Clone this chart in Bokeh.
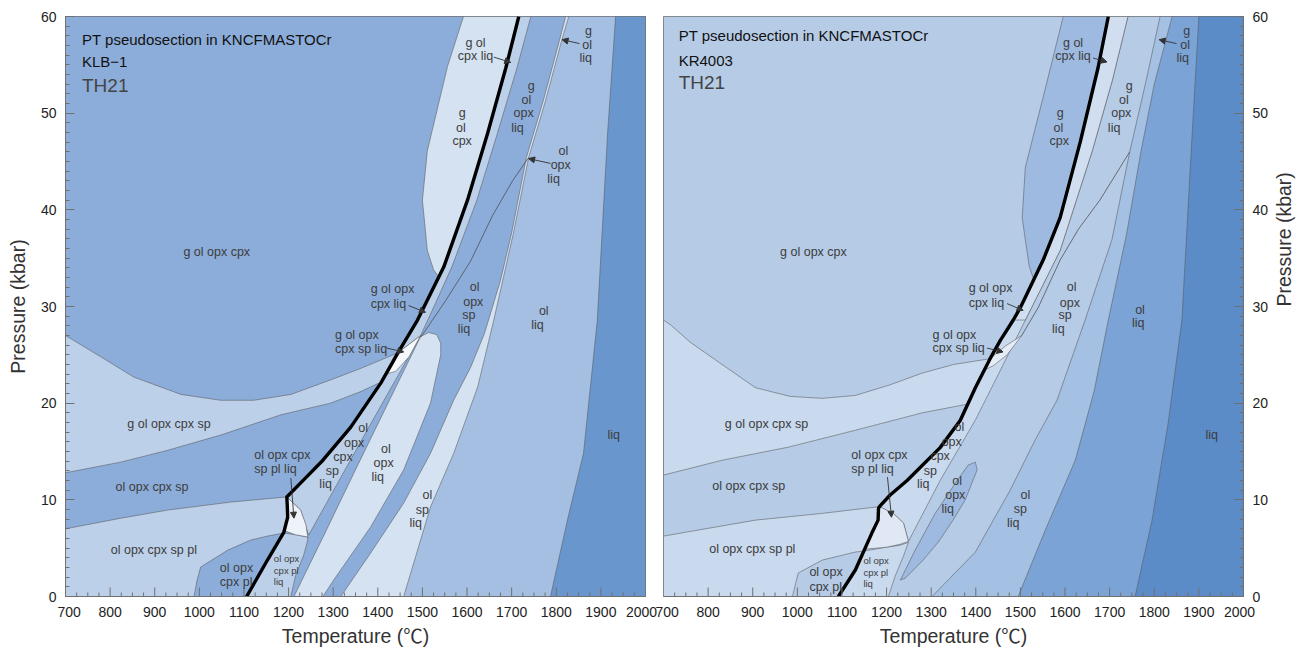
import math
from bokeh.plotting import figure
from bokeh.layouts import row
from bokeh.models import Arrow, NormalHead, SingleIntervalTicker, FixedTicker, Range1d
from bokeh.core.properties import value
from bokeh.embed import file_html
from bokeh.resources import INLINE

FONT = "Liberation Sans"
TITLE_FONT = "Liberation Sans, Noto Sans CJK SC"

# ---------------------------------------------------------------
# KLB-1 phase boundaries, (T in degC, P in kbar)
# ---------------------------------------------------------------
KLB_SOLIDUS = [(1106, 0), (1153, 3.8), (1189, 6.6), (1198, 8.2), (1197, 9.5), (1196, 10.3),
               (1241, 12.4), (1277, 14.1), (1339, 17.5), (1407, 22.1), (1445, 25.2),
               (1489, 28.6), (1548, 34.1), (1601, 41.0), (1646, 47.9), (1687, 54.7), (1716, 60)]
KLB_GARNET_OUT = [(700, 27.0), (779, 24.8), (853, 22.7), (959, 20.9), (1048, 20.3), (1122, 20.3),
                  (1205, 20.9), (1294, 22.4), (1362, 23.6), (1445, 25.2)]
KLB_GARNET_IN = [(700, 12.8), (824, 13.9), (927, 15.1), (1048, 16.7), (1183, 18.8), (1294, 20.0),
                 (1362, 21.2), (1408, 22.2)]
KLB_PLAG_OUT = [(700, 7.0), (824, 8.1), (929, 8.94), (1071, 9.77), (1196, 10.3)]
KLB_PLAG_FIELD = [(988, 0), (995, 1.7), (1003, 3.05), (1064, 4.8), (1115, 5.84), (1153, 6.25), (1189, 6.56)]
KLB_PLAG_LIQ = [(1189, 6.56), (1215, 6.4), (1243, 6.15), (1243, 5.84), (1234, 4.3), (1216, 2.2), (1205, 0)]
KLB_CORNER = [(1196, 10.3), (1227, 8.94), (1239, 7.4), (1243, 6.15), (1215, 6.4), (1191, 6.8), (1198, 8.2)]
KLB_CPX_OUT = [(1496, 27.0), (1370, 16.7), (1245, 6.35), (1227, 8.94)]
KLB_LENS = [(1212, 0), (1282, 6.6), (1353, 13.4), (1425, 20.2), (1496, 26.9), (1514, 27.3), (1532, 27.1),
            (1541, 26.2), (1541, 25.0), (1518, 20.0), (1458, 13.1), (1384, 7.2), (1301, 1.7), (1277, 0)]
KLB_OPX_OUT = [(1317, 0), (1384, 4.5), (1458, 9.66), (1518, 14.8), (1570, 20.3), (1608, 23.7),
               (1639, 27.2), (1675, 32.7), (1700, 37.6), (1733, 45.4), (1771, 51.3), (1807, 57.5), (1821, 60)]
KLB_SP_OUT = [(1458, 0), (1518, 9.25), (1570, 14.8), (1624, 21.7), (1660, 28.6), (1704, 37.6),
              (1738, 45.4), (1776, 51.3), (1812, 57.5), (1828, 60)]
KLB_LIQUIDUS = [(1787, 0), (1825, 7.9), (1861, 14.8), (1892, 28.6), (1915, 47.9), (1933, 60)]
KLB_STRIP = [(1496, 27.0), (1522, 29.6), (1566, 34.1), (1622, 41.0), (1668, 47.9), (1712, 54.7), (1743, 60)]
KLB_GOLCPX = [(1592, 60), (1556, 54.8), (1511, 46.1), (1500, 41.0), (1511, 35.8), (1525, 33.8), (1538, 33.0)]
KLB_SLIVER = [(1418, 23.0), (1445, 25.2), (1496, 27.0), (1470, 24.8), (1440, 23.3)]
KLB_DIAG = [(1496, 26.8), (1552, 30.6), (1608, 34.7), (1657, 39.4), (1702, 43.0), (1738, 45.4)]

# ---------------------------------------------------------------
# KR4003 phase boundaries
# ---------------------------------------------------------------
KR_SOLIDUS = [(1092, 0), (1130, 2.74), (1167, 6.56), (1181, 7.9), (1182, 9.15), (1184, 9.3),
              (1208, 10.5), (1246, 12.0), (1320, 15.4), (1365, 18.2), (1399, 21.6), (1432, 24.6),
              (1455, 26.5), (1484, 28.6), (1500, 29.9), (1529, 32.7), (1551, 34.8), (1589, 39.2),
              (1634, 47.0), (1674, 54.7), (1697, 60)]
KR_GARNET_OUT = [(700, 28.6), (716, 28.1), (760, 26.3), (794, 25.2), (850, 23.4), (906, 21.6),
                 (984, 20.7), (1056, 20.5), (1130, 20.8), (1208, 21.9), (1279, 23.1), (1350, 24.0),
                 (1432, 24.6)]
KR_GARNET_IN = [(700, 12.56), (832, 14.1), (980, 15.45), (1130, 17.2), (1280, 19.0), (1381, 19.9)]
KR_PLAG_OUT = [(700, 6.25), (906, 7.9), (1056, 8.6), (1184, 9.3)]
KR_PLAG_FIELD = [(989, 0), (1002, 2.43), (1056, 3.77), (1130, 4.6), (1150, 4.7)]
KR_PLAG_LIQ = [(1150, 4.7), (1200, 5.1), (1230, 5.3), (1249, 5.6), (1238, 4.2), (1220, 2.2), (1204, 0)]
KR_CORNER = [(1184, 9.3), (1215, 8.6), (1238, 7.6), (1249, 5.7), (1230, 5.4), (1200, 5.1), (1152, 4.9),
             (1167, 6.56), (1181, 7.9), (1182, 9.15)]
KR_CPX_OUT = [(1741, 60), (1706, 53.4), (1661, 46.1), (1589, 35.8), (1511, 28.6), (1455, 23.4),
              (1399, 18.25), (1320, 12.0), (1249, 5.7)]
KR_LENS = [(1231, 1.7), (1264, 4.8), (1309, 8.6), (1358, 12.0), (1383, 13.6), (1399, 13.9), (1403, 13.1),
           (1376, 9.97), (1349, 7.9), (1316, 5.63), (1282, 3.77), (1242, 1.9)]
KR_OPX_OUT = [(1302, 0), (1399, 4.6), (1477, 11.0), (1533, 16.2), (1582, 20.3), (1645, 28.6),
              (1705, 36.9), (1745, 46.0), (1780, 53.0), (1813, 60)]
KR_SP_OUT = [(1495, 0), (1556, 6.9), (1623, 14.1), (1665, 21.2), (1697, 28.6), (1738, 37.5),
             (1770, 46.0), (1800, 53.0), (1840, 60)]
KR_LIQUIDUS = [(1757, 0), (1795, 7.9), (1831, 17.9), (1862, 28.6), (1885, 47.9), (1900, 60)]
KR_GOLCPX = [(1596, 60), (1549, 51.3), (1511, 44.4), (1504, 39.2), (1511, 36.9), (1520, 34.1), (1530, 32.8)]
KR_SLIVER = [(1419, 23.4), (1432, 24.6), (1466, 25.9), (1503, 27.0), (1470, 25.0), (1440, 23.9)]
KR_DIAG = [(1503, 27.0), (1540, 29.9), (1589, 34.8), (1630, 38.0), (1678, 41.0), (1745, 46.0)]

# ---------------------------------------------------------------
# field labels: text, T, P, alignment
# ---------------------------------------------------------------
KLB_LABELS = [
    ("g ol opx cpx", 1039, 35.6, "center"),
    ("g ol opx cpx sp", 932, 17.8, "center"),
    ("ol opx cpx sp", 894, 11.3, "center"),
    ("ol opx cpx sp pl", 898, 4.8, "center"),
    ("ol opx", 1046, 2.9, "left"), ("cpx pl", 1046, 1.47, "left"),
    ("ol opx cpx", 1123, 14.6, "left"), ("sp pl liq", 1123, 13.15, "left"),
    ("ol", 1367, 17.45, "center"), ("opx", 1347, 15.9, "center"), ("cpx", 1322, 14.45, "center"),
    ("sp", 1298, 13.0, "center"), ("liq", 1283, 11.6, "center"),
    ("ol", 1418, 15.25, "center"), ("opx", 1413, 13.8, "center"), ("liq", 1400, 12.35, "center"),
    ("ol", 1511, 10.5, "center"), ("sp", 1500, 9.0, "center"), ("liq", 1485, 7.57, "center"),
    ("ol", 1772, 29.5, "center"), ("liq", 1758, 28.1, "center"),
    ("liq", 1929, 16.7, "center"),
    ("g ol opx", 1304, 27.1, "left"), ("cpx sp liq", 1304, 25.65, "left"),
    ("g ol opx", 1384, 31.85, "left"), ("cpx liq", 1384, 30.3, "left"),
    ("ol", 1617, 32.0, "center"), ("opx", 1614, 30.5, "center"), ("sp", 1604, 29.1, "center"),
    ("liq", 1593, 27.7, "center"),
    ("g", 1589, 50.0, "center"), ("ol", 1586, 48.5, "center"), ("cpx", 1589, 47.1, "center"),
    ("g ol", 1619, 57.3, "center"), ("cpx liq", 1619, 55.9, "center"),
    ("g", 1744, 52.8, "center"), ("ol", 1733, 51.4, "center"), ("opx", 1727, 50.0, "center"),
    ("liq", 1713, 48.5, "center"),
    ("ol", 1816, 46.05, "center"), ("opx", 1810, 44.6, "center"), ("liq", 1794, 43.15, "center"),
    ("g", 1872, 58.45, "center"), ("ol", 1869, 57.1, "center"), ("liq", 1866, 55.7, "center"),
]
KLB_SMALL = [("ol opx", 1167, 3.95), ("cpx pl", 1167, 2.74), ("liq", 1167, 1.53)]
KLB_ARROWS = [((1420, 25.7), (1458, 25.3)), ((1469, 30.1), (1507, 29.4)),
              ((1660, 55.8), (1698, 55.25)), ((1852, 57.2), (1813, 57.6)),
              ((1787, 44.8), (1738, 45.3)), ((1205, 12.25), (1212, 8.1))]

KR_LABELS = [
    ("g ol opx cpx", 1036, 35.6, "center"),
    ("g ol opx cpx sp", 931, 17.8, "center"),
    ("ol opx cpx sp", 891, 11.4, "center"),
    ("ol opx cpx sp pl", 899, 4.9, "center"),
    ("ol opx", 1027, 2.5, "left"), ("cpx pl", 1027, 1.01, "left"),
    ("ol opx cpx", 1121, 14.6, "left"), ("sp pl liq", 1121, 13.2, "left"),
    ("ol", 1363, 17.5, "center"), ("opx", 1346, 16.0, "center"), ("cpx", 1320, 14.5, "center"),
    ("sp", 1298, 13.0, "center"), ("liq", 1282, 11.6, "center"),
    ("ol", 1358, 11.9, "center"), ("opx", 1354, 10.5, "center"), ("liq", 1337, 9.04, "center"),
    ("ol", 1511, 10.5, "center"), ("sp", 1500, 9.04, "center"), ("liq", 1484, 7.6, "center"),
    ("ol", 1768, 29.6, "center"), ("liq", 1764, 28.3, "center"),
    ("liq", 1929, 16.7, "center"),
    ("g ol opx", 1303, 27.1, "left"), ("cpx sp liq", 1303, 25.7, "left"),
    ("g ol opx", 1384, 31.9, "left"), ("cpx liq", 1384, 30.4, "left"),
    ("ol", 1615, 32.0, "center"), ("opx", 1611, 30.4, "center"), ("sp", 1600, 29.1, "center"),
    ("liq", 1585, 27.65, "center"),
    ("g", 1589, 50.0, "center"), ("ol", 1585, 48.5, "center"), ("cpx", 1587, 47.1, "center"),
    ("g ol", 1618, 57.3, "center"), ("cpx liq", 1618, 55.9, "center"),
    ("g", 1744, 52.8, "center"), ("ol", 1732, 51.4, "center"), ("opx", 1726, 50.0, "center"),
    ("liq", 1710, 48.5, "center"),
    ("g", 1873, 58.5, "center"), ("ol", 1869, 57.1, "center"), ("liq", 1864, 55.7, "center"),
]
KR_SMALL = [("ol opx", 1148, 3.77), ("cpx pl", 1148, 2.5), ("liq", 1148, 1.36)]
KR_ARROWS = [((1425, 25.7), (1461, 25.3)), ((1470, 30.3), (1506, 29.6)),
             ((1663, 55.7), (1694, 55.3)), ((1850, 57.2), (1811, 57.6)),
             ((1202, 12.35), (1211, 8.2))]

T_MIN, T_MAX, P_MIN, P_MAX = 700, 2000, 0, 60
# temperature labels: the two outermost ones are nudged inward, off the frame corners
T_LABEL_AT = [708] + list(range(800, 2000, 100)) + [1991]
T_LABEL_TEXT = {708: "700", 1991: "2000"}
T_MAJOR = list(range(800, 2000, 100))
T_MINOR = [t for t in range(725, 2000, 25) if t % 100]

FRAME_PX = 580


def seg(curve, lo, hi):
    return [pt for pt in curve if lo <= pt[1] <= hi]


def patch(p, pts, color, line="#555555", lw=0.6, alpha=0.9):
    p.patch([a for a, _ in pts], [b for _, b in pts], fill_color=color,
            line_color=line, line_width=lw, line_alpha=alpha)


def line(p, pts, color="#444444", lw=0.7):
    p.line([a for a, _ in pts], [b for _, b in pts], line_color=color, line_width=lw)


def style_axis(ax):
    ax.major_label_text_font = FONT
    ax.major_label_text_font_size = "14px"
    ax.major_label_text_color = "#222222"
    ax.axis_label_text_font = TITLE_FONT
    ax.axis_label_text_font_size = "19.5px"
    ax.axis_label_text_font_style = "normal"
    ax.axis_label_text_color = "#333333"
    ax.axis_line_color = "#707070"
    ax.major_tick_line_color = "#707070"
    ax.minor_tick_line_color = "#707070"
    ax.major_tick_in = 9
    ax.major_tick_out = 0
    ax.minor_tick_in = 4
    ax.minor_tick_out = 0


def make_fig(side, width, left, right):
    p = figure(width=width, height=654, frame_width=FRAME_PX, frame_height=FRAME_PX,
               x_range=Range1d(T_MIN, T_MAX), y_range=Range1d(P_MIN, P_MAX),
               output_backend="svg", toolbar_location=None, y_axis_location=side,
               min_border_left=left, min_border_right=right, min_border_top=16,
               min_border_bottom=58)
    p.grid.visible = False
    p.outline_line_color = "#707070"
    p.outline_line_width = 1
    p.border_fill_color = "white"

    xl = p.xaxis[0]
    style_axis(xl)
    xl.ticker = FixedTicker(ticks=T_LABEL_AT)
    xl.major_label_overrides = T_LABEL_TEXT
    xl.major_tick_line_color = None
    xl.minor_tick_line_color = None
    xl.major_label_standoff = 10
    xl.axis_label = "Temperature (\u2103)"
    xl.axis_label_standoff = 5

    yax = p.yaxis[0]
    style_axis(yax)
    yax.ticker = SingleIntervalTicker(interval=10, num_minor_ticks=10)
    yax.axis_label = "Pressure (kbar)"
    yax.major_label_standoff = 9
    yax.axis_label_standoff = 9
    return p


def t_ticks(p):
    # inward temperature tick marks along the bottom of the frame
    kbar_per_px = (P_MAX - P_MIN) / FRAME_PX
    for ticks, length in ((T_MAJOR, 9), (T_MINOR, 4)):
        p.segment(x0=ticks, y0=[P_MIN] * len(ticks), x1=ticks,
                  y1=[P_MIN + length * kbar_per_px] * len(ticks),
                  line_color="#707070", line_width=1)


def labels(p, items, size="12.5px", color="#3c3c3c"):
    for align in ("center", "left"):
        sel = [it for it in items if it[3] == align]
        if sel:
            p.text(x=[s[1] for s in sel], y=[s[2] for s in sel], text=[s[0] for s in sel],
                   text_font=value(FONT), text_font_size=size, text_color=color,
                   text_align=align, text_baseline="middle")


def arrows(p, items):
    for (x0, y0), (x1, y1) in items:
        p.add_layout(Arrow(x_start=x0, y_start=y0, x_end=x1, y_end=y1,
                           line_color="#333333", line_width=0.9,
                           end=NormalHead(size=6, fill_color="#333333", line_color="#333333")))


def titles(p, x, name, ys):
    p.text(x=[x, x], y=[ys[0], ys[1]], text=["PT pseudosection in KNCFMASTOCr", name],
           text_font=value(FONT), text_font_size="15px", text_color="#111111",
           text_align="left", text_baseline="middle")
    p.text(x=[x], y=[ys[2]], text=["TH21"], text_font=value(FONT), text_font_size="19px",
           text_color="#444444", text_align="left", text_baseline="middle")


FRAME = [(700, 0), (700, 60), (2000, 60), (2000, 0)]
EDGE = [(2000, 60), (2000, 0)]

# ------------------------- KLB-1 panel -------------------------
MED, L1, L2, OLLIQ, LIQ, WHITE = "#8cadd9", "#bdd0e9", "#d5e2f2", "#a4bfe2", "#6a96ce", "#eef2f9"
p1 = make_fig("left", 674, 65, 29)
patch(p1, FRAME, MED, line=None)
patch(p1, KLB_OPX_OUT + EDGE, L2)
patch(p1, KLB_SP_OUT + EDGE, OLLIQ)
patch(p1, KLB_LIQUIDUS + EDGE, LIQ)
patch(p1, KLB_LENS, L2)
patch(p1, KLB_GARNET_OUT + KLB_GARNET_IN[::-1], L1)
patch(p1, [(700, 0)] + KLB_PLAG_OUT + seg(KLB_SOLIDUS, 0, 10.0)[::-1], L1)
patch(p1, KLB_PLAG_FIELD + seg(KLB_SOLIDUS, 0, 6.0)[::-1], MED)
patch(p1, seg(KLB_SOLIDUS, 10.3, 25.2) + KLB_CPX_OUT, L1)
patch(p1, KLB_PLAG_LIQ + seg(KLB_SOLIDUS, 0, 6.0), L1)
patch(p1, KLB_CORNER, WHITE)
patch(p1, seg(KLB_SOLIDUS, 25.2, 60) + KLB_STRIP[::-1], L1)
patch(p1, KLB_SLIVER, "#f6f8fc")
patch(p1, KLB_GOLCPX + seg(KLB_SOLIDUS, 34.0, 60), L2)
line(p1, KLB_DIAG)
line(p1, KLB_SOLIDUS, "black", 3.4)
t_ticks(p1)
labels(p1, KLB_LABELS)
labels(p1, [(t, x, y, "left") for t, x, y in KLB_SMALL], size="9.5px")
arrows(p1, KLB_ARROWS)
titles(p1, 737, "KLB\u22121", (57.6, 55.3, 52.9))

# ------------------------- KR4003 panel ------------------------
BG, LT, WH, LENS, OSL, OL2, LQ = "#b5cbe6", "#c9d9ee", "#dfe8f4", "#9ebae0", "#a4c0e3", "#7ba3d5", "#5b8cc8"
p2 = make_fig("right", 659, 18, 61)
p2.border_fill_alpha = 0
p2.margin = (0, 0, 0, -29)
p2.yaxis.axis_label_orientation = math.pi / 2
p2.yaxis.axis_label_standoff = 13
patch(p2, FRAME, BG, line=None)
patch(p2, KR_OPX_OUT + EDGE, OSL)
patch(p2, KR_SP_OUT + EDGE, OL2)
patch(p2, KR_LIQUIDUS + EDGE, LQ)
patch(p2, seg(KR_SOLIDUS, 9.3, 60) + KR_CPX_OUT + [(1238, 7.6), (1215, 8.6)], LT)
patch(p2, seg(KR_SOLIDUS, 28.6, 60) + [pt for pt in KR_CPX_OUT if pt[1] >= 28.6], "#d1def0")
patch(p2, KR_LENS, LENS)
patch(p2, KR_GARNET_OUT + KR_GARNET_IN[::-1], LT)
patch(p2, [(700, 0)] + KR_PLAG_OUT + seg(KR_SOLIDUS, 0, 9.2)[::-1], LT)
patch(p2, KR_PLAG_FIELD + seg(KR_SOLIDUS, 0, 4.0)[::-1], BG)
patch(p2, KR_PLAG_LIQ + seg(KR_SOLIDUS, 0, 4.0), LT)
patch(p2, KR_CORNER, WH)
patch(p2, KR_SLIVER, "#e4ecf6")
patch(p2, KR_GOLCPX + seg(KR_SOLIDUS, 33.0, 60), LENS)
line(p2, KR_DIAG)
line(p2, KR_SOLIDUS, "black", 3.4)
t_ticks(p2)
labels(p2, KR_LABELS)
labels(p2, [(t, x, y, "left") for t, x, y in KR_SMALL], size="9.5px")
arrows(p2, KR_ARROWS)
titles(p2, 734, "KR4003", (58.0, 55.45, 53.2))

layout = row(p1, p2)
open("out.html", "w").write(file_html(layout, INLINE))
